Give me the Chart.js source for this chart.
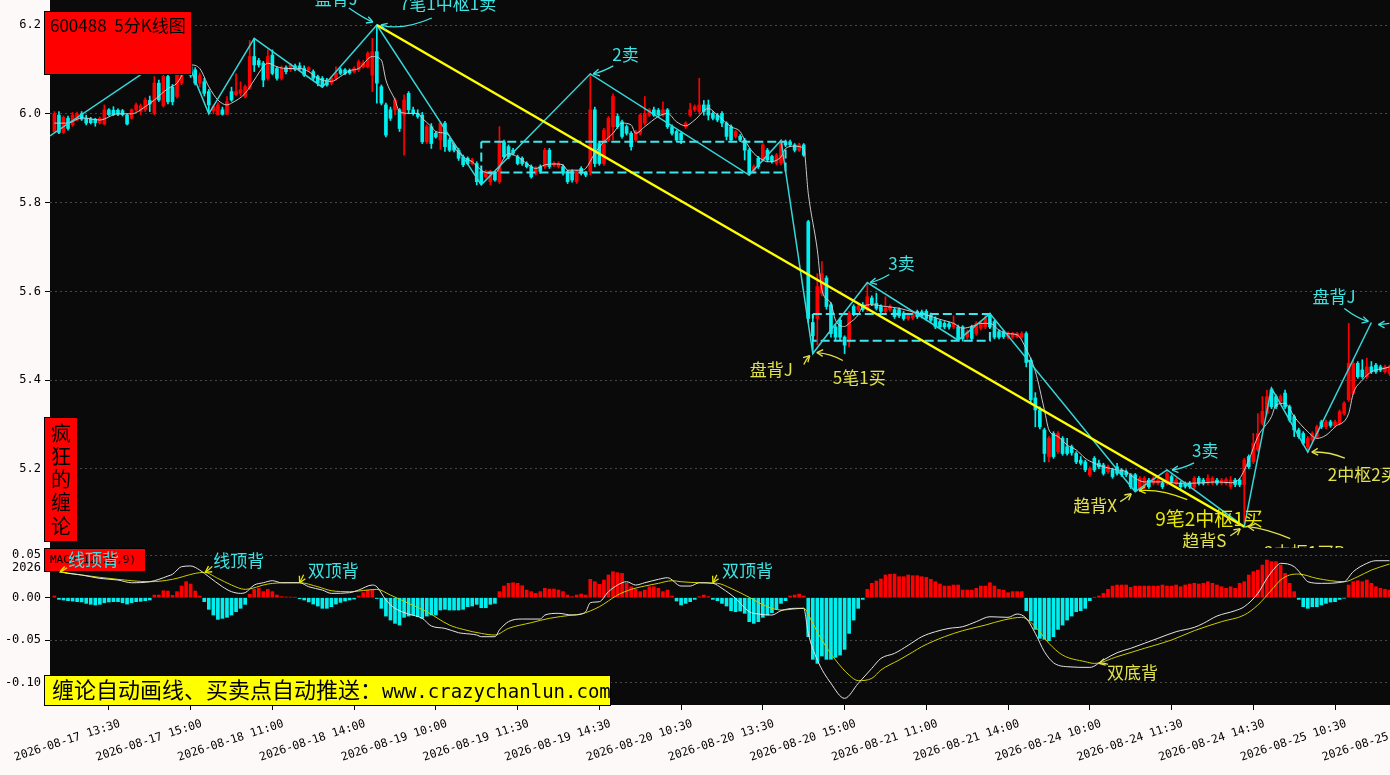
<!DOCTYPE html>
<html>
<head>
<meta charset="utf-8">
<script src="https://cdn.jsdelivr.net/npm/chart.js@4.4.1/dist/chart.umd.min.js"></script>
<style>
  html, body { margin: 0; padding: 0; background: #fcf9f8; overflow: hidden; }
  #wrap { position: relative; width: 1390px; height: 775px; }
  #kBox { position: absolute; left: 0; top: 0; width: 1390px; height: 548px; }
  #mBox { position: absolute; left: 0; top: 548px; width: 1390px; height: 227px; }
</style>
</head>
<body>
<div id="wrap">
  <div id="kBox"><canvas id="kChart"></canvas></div>
  <div id="mBox"><canvas id="macdChart"></canvas></div>
</div>
<script>
// 600488 5分钟K线 (每根 = 5 分钟), 下标 0 = 2026-08-17 13:15
const open = [
  5.960,5.997,5.958,5.990,5.975,5.986,6.000,5.990,5.988,5.988,
  5.979,5.977,6.009,6.008,6.008,6.007,5.997,5.990,6.009,6.005,
  6.009,6.030,6.001,6.069,6.018,6.084,6.060,6.039,6.069,6.095,
  6.106,6.099,6.069,6.072,6.050,6.007,5.998,6.009,5.999,6.050,
  6.043,6.046,6.039,6.058,6.129,6.120,6.114,6.080,6.132,6.102,
  6.080,6.104,6.099,6.108,6.108,6.102,6.099,6.095,6.084,6.080,
  6.076,6.069,6.080,6.099,6.099,6.098,6.095,6.099,6.106,6.106,
  6.087,6.140,6.061,6.020,6.009,6.009,6.009,5.997,6.046,6.009,
  6.001,5.997,5.937,5.971,5.956,5.941,5.979,5.941,5.930,5.918,
  5.903,5.900,5.888,5.888,5.870,5.858,5.847,5.866,5.847,5.937,
  5.926,5.918,5.903,5.900,5.888,5.881,5.866,5.881,5.881,5.918,
  5.885,5.881,5.881,5.870,5.870,5.847,5.877,5.866,5.870,6.009,
  5.933,5.888,5.941,5.971,5.994,5.982,5.971,5.956,5.941,5.956,
  5.979,5.997,6.009,6.008,5.997,6.009,5.971,5.960,5.956,5.971,
  5.997,6.009,6.005,6.020,6.020,6.001,5.997,6.001,5.979,5.971,
  5.949,5.949,5.941,5.918,5.870,5.900,5.896,5.918,5.904,5.889,
  5.889,5.937,5.937,5.930,5.918,5.930,5.757,5.530,5.539,5.596,
  5.630,5.570,5.520,5.535,5.497,5.486,5.566,5.559,5.570,5.559,
  5.585,5.573,5.566,5.555,5.559,5.559,5.559,5.551,5.539,5.540,
  5.555,5.554,5.555,5.547,5.539,5.532,5.528,5.527,5.520,5.520,
  5.520,5.497,5.520,5.505,5.517,5.520,5.547,5.532,5.509,5.508,
  5.497,5.497,5.498,5.497,5.505,5.445,5.360,5.333,5.288,5.228,
  5.280,5.239,5.269,5.250,5.250,5.235,5.220,5.216,5.187,5.224,
  5.213,5.209,5.194,5.198,5.205,5.198,5.194,5.187,5.187,5.153,
  5.160,5.175,5.168,5.168,5.168,5.168,5.183,5.168,5.168,5.167,
  5.168,5.160,5.179,5.175,5.168,5.168,5.175,5.168,5.168,5.160,
  5.175,5.175,5.165,5.228,5.216,5.243,5.303,5.325,5.378,5.363,
  5.352,5.371,5.340,5.318,5.288,5.280,5.250,5.265,5.273,5.306,
  5.295,5.306,5.298,5.303,5.325,5.356,5.371,5.438,5.423,5.408,
  5.430,5.434,5.430,5.419,5.415
];
const high = [
  6.005,6.005,5.995,5.995,6.003,6.004,6.005,5.997,5.992,5.990,
  5.993,6.020,6.012,6.016,6.011,6.010,6.000,6.011,6.024,6.022,
  6.036,6.040,6.084,6.076,6.090,6.095,6.066,6.100,6.150,6.130,
  6.140,6.104,6.092,6.080,6.055,6.020,6.025,6.015,6.039,6.060,
  6.090,6.072,6.065,6.165,6.170,6.125,6.118,6.144,6.144,6.106,
  6.108,6.108,6.114,6.112,6.115,6.108,6.106,6.099,6.087,6.084,
  6.080,6.084,6.106,6.103,6.102,6.101,6.106,6.121,6.120,6.140,
  6.170,6.200,6.065,6.024,6.015,6.036,6.012,6.043,6.050,6.015,
  6.009,6.003,5.975,5.978,5.960,5.982,5.983,5.945,5.933,5.922,
  5.907,5.903,5.900,5.892,5.875,5.873,5.873,5.870,5.971,5.941,
  5.930,5.922,5.907,5.903,5.892,5.885,5.881,5.885,5.922,5.922,
  5.892,5.892,5.885,5.873,5.874,5.873,5.881,5.870,6.090,6.015,
  5.937,5.967,5.994,6.045,6.000,5.986,5.975,5.960,5.963,6.000,
  6.039,6.012,6.015,6.012,6.027,6.012,5.975,5.963,5.960,5.982,
  6.024,6.020,6.080,6.030,6.031,6.005,6.001,6.005,5.982,5.975,
  5.963,5.953,5.945,5.922,5.885,5.904,5.933,5.922,5.907,5.911,
  5.941,5.941,5.941,5.933,5.934,5.933,5.760,5.545,5.640,5.667,
  5.635,5.575,5.525,5.540,5.500,5.555,5.570,5.570,5.575,5.620,
  5.590,5.596,5.570,5.588,5.570,5.562,5.563,5.555,5.551,5.556,
  5.558,5.558,5.559,5.551,5.543,5.535,5.532,5.531,5.545,5.524,
  5.523,5.513,5.524,5.532,5.532,5.549,5.551,5.535,5.513,5.512,
  5.509,5.508,5.508,5.509,5.509,5.450,5.372,5.340,5.292,5.273,
  5.284,5.284,5.273,5.269,5.254,5.239,5.228,5.220,5.205,5.228,
  5.220,5.213,5.209,5.202,5.213,5.201,5.198,5.190,5.190,5.183,
  5.183,5.179,5.183,5.179,5.172,5.198,5.187,5.179,5.172,5.171,
  5.172,5.183,5.183,5.179,5.187,5.183,5.179,5.179,5.180,5.183,
  5.179,5.179,5.224,5.232,5.280,5.325,5.363,5.378,5.382,5.367,
  5.367,5.378,5.344,5.322,5.292,5.284,5.273,5.284,5.299,5.310,
  5.310,5.310,5.310,5.333,5.352,5.528,5.446,5.442,5.446,5.450,
  5.442,5.438,5.434,5.434,5.434
];
const low = [
  5.957,5.955,5.955,5.963,5.972,5.984,5.985,5.975,5.977,5.972,
  5.977,5.975,5.995,5.996,5.996,5.995,5.975,5.988,6.005,5.998,
  6.005,6.005,5.998,6.028,6.015,6.022,6.020,6.035,6.065,6.090,
  6.082,6.065,6.060,6.040,6.000,6.000,5.998,5.997,5.998,6.028,
  6.040,6.040,6.036,6.055,6.095,6.105,6.061,6.076,6.088,6.076,
  6.076,6.090,6.095,6.097,6.097,6.084,6.095,6.076,6.063,6.060,
  6.062,6.065,6.076,6.088,6.088,6.089,6.092,6.095,6.103,6.103,
  6.050,6.024,6.020,5.948,5.985,5.998,5.960,5.907,6.000,5.997,
  5.990,5.933,5.933,5.922,5.945,5.920,5.915,5.915,5.914,5.895,
  5.881,5.885,5.885,5.840,5.840,5.855,5.840,5.848,5.843,5.900,
  5.899,5.907,5.885,5.884,5.878,5.855,5.862,5.866,5.877,5.877,
  5.881,5.878,5.862,5.843,5.846,5.843,5.862,5.858,5.862,5.881,
  5.884,5.884,5.937,5.941,5.967,5.945,5.952,5.918,5.937,5.952,
  5.975,5.994,5.994,5.994,5.994,5.967,5.952,5.937,5.933,5.967,
  5.994,6.005,6.000,5.997,5.986,5.986,5.982,5.971,5.941,5.937,
  5.945,5.937,5.896,5.862,5.866,5.877,5.892,5.892,5.889,5.885,
  5.885,5.926,5.926,5.914,5.915,5.904,5.530,5.460,5.480,5.590,
  5.560,5.497,5.490,5.490,5.460,5.475,5.545,5.555,5.555,5.555,
  5.568,5.558,5.551,5.551,5.555,5.539,5.541,5.535,5.535,5.536,
  5.539,5.540,5.535,5.531,5.516,5.516,5.516,5.515,5.516,5.490,
  5.488,5.493,5.490,5.501,5.513,5.516,5.516,5.493,5.493,5.494,
  5.493,5.494,5.495,5.494,5.430,5.350,5.295,5.290,5.216,5.216,
  5.224,5.235,5.231,5.231,5.231,5.212,5.209,5.194,5.183,5.194,
  5.201,5.186,5.190,5.179,5.186,5.183,5.183,5.156,5.149,5.149,
  5.156,5.156,5.164,5.164,5.156,5.164,5.168,5.164,5.156,5.157,
  5.156,5.156,5.164,5.164,5.164,5.165,5.164,5.164,5.164,5.156,
  5.160,5.160,5.070,5.201,5.212,5.239,5.299,5.321,5.336,5.336,
  5.348,5.336,5.306,5.273,5.269,5.254,5.238,5.261,5.269,5.291,
  5.291,5.294,5.294,5.299,5.321,5.352,5.367,5.404,5.404,5.404,
  5.415,5.415,5.419,5.415,5.411
];
const close = [
  6.000,5.958,5.992,5.967,5.997,6.000,5.988,5.979,5.980,5.980,
  5.990,6.009,5.998,5.998,5.999,5.998,5.977,6.009,6.020,6.018,
  6.031,6.022,6.069,6.031,6.084,6.027,6.027,6.087,6.099,6.110,
  6.087,6.069,6.087,6.046,6.020,6.016,6.020,5.999,6.027,6.031,
  6.050,6.054,6.061,6.129,6.110,6.110,6.076,6.129,6.091,6.080,
  6.102,6.095,6.110,6.100,6.101,6.087,6.104,6.080,6.069,6.063,
  6.065,6.080,6.091,6.091,6.091,6.092,6.102,6.117,6.114,6.136,
  6.140,6.069,6.024,5.952,5.990,6.031,5.967,6.031,6.009,6.001,
  5.994,5.937,5.971,5.933,5.948,5.979,5.926,5.918,5.918,5.900,
  5.885,5.888,5.896,5.847,5.843,5.870,5.870,5.851,5.937,5.903,
  5.903,5.911,5.888,5.888,5.881,5.858,5.877,5.870,5.918,5.881,
  5.888,5.888,5.866,5.847,5.851,5.870,5.866,5.862,6.009,5.888,
  5.888,5.963,5.990,6.039,5.971,5.949,5.956,5.926,5.960,5.997,
  6.001,6.009,5.997,5.998,6.009,5.971,5.956,5.941,5.941,5.979,
  6.009,6.016,6.020,6.005,5.997,5.990,5.986,5.979,5.949,5.941,
  5.960,5.941,5.918,5.870,5.881,5.881,5.930,5.896,5.892,5.907,
  5.937,5.930,5.930,5.918,5.930,5.907,5.539,5.500,5.611,5.640,
  5.566,5.505,5.497,5.497,5.479,5.551,5.551,5.566,5.559,5.588,
  5.572,5.562,5.555,5.562,5.566,5.543,5.545,5.539,5.547,5.551,
  5.543,5.544,5.539,5.535,5.520,5.520,5.520,5.520,5.528,5.494,
  5.494,5.509,5.494,5.528,5.528,5.539,5.520,5.497,5.497,5.498,
  5.505,5.505,5.505,5.505,5.440,5.356,5.333,5.295,5.235,5.269,
  5.228,5.280,5.235,5.235,5.237,5.216,5.213,5.198,5.201,5.198,
  5.205,5.190,5.205,5.183,5.190,5.187,5.187,5.160,5.153,5.179,
  5.179,5.160,5.179,5.175,5.160,5.190,5.172,5.175,5.160,5.161,
  5.160,5.179,5.168,5.168,5.179,5.179,5.168,5.175,5.176,5.175,
  5.165,5.165,5.220,5.205,5.258,5.280,5.330,5.363,5.340,5.340,
  5.363,5.340,5.310,5.288,5.273,5.258,5.269,5.280,5.295,5.295,
  5.306,5.298,5.306,5.329,5.348,5.438,5.438,5.408,5.408,5.430,
  5.419,5.419,5.423,5.430,5.430
];

// 均线 (白线), [下标, 价格]
const ma5 = [
  [0,5.979],[3,5.979],[6,5.991],[10,5.986],[14,6.000],[17,6.000],[20,6.016],[22,6.031],[25,6.057],[27,6.069],
  [29,6.102],[30,6.110],[32,6.102],[34,6.061],[36,6.031],[38,6.020],[39,6.024],[42,6.046],[44,6.076],[46,6.106],
  [47,6.114],[49,6.106],[51,6.102],[54,6.102],[56,6.095],[58,6.080],[61,6.073],[63,6.084],[65,6.097],[67,6.102],
  [70,6.129],[72,6.121],[73,6.076],[75,6.031],[76,6.005],[78,6.001],[80,6.001],[81,5.990],[83,5.971],[84,5.960],
  [86,5.956],[87,5.949],[88,5.926],[90,5.903],[92,5.892],[94,5.873],[96,5.866],[97,5.866],[99,5.900],[100,5.911],
  [102,5.903],[104,5.888],[106,5.877],[108,5.885],[110,5.887],[112,5.885],[113,5.873],[116,5.873],[117,5.877],[119,5.911],
  [121,5.937],[123,5.956],[125,5.979],[127,5.975],[128,5.956],[130,5.971],[133,5.994],[135,6.001],[137,5.982],[139,5.973],
  [141,5.986],[144,6.012],[146,5.997],[149,5.971],[151,5.960],[152,5.941],[154,5.911],[156,5.896],[157,5.892],[160,5.903],
  [161,5.922],[163,5.927],[165,5.922],[166,5.821],[168,5.693],[169,5.603],[171,5.573],[172,5.535],[174,5.521],[175,5.528],
  [177,5.547],[178,5.566],[180,5.570],[183,5.566],[186,5.562],[189,5.554],[192,5.547],[195,5.537],[198,5.528],[200,5.517],
  [202,5.521],[204,5.528],[206,5.528],[208,5.513],[210,5.505],[212,5.502],[214,5.470],[216,5.420],[218,5.333],[219,5.288],
  [221,5.273],[223,5.254],[225,5.243],[227,5.224],[229,5.213],[231,5.205],[234,5.198],[236,5.194],[238,5.179],[240,5.171],
  [243,5.171],[245,5.171],[247,5.168],[250,5.168],[253,5.169],[256,5.171],[259,5.169],[261,5.179],[263,5.220],[265,5.273],
  [268,5.318],[269,5.344],[271,5.348],[273,5.318],[276,5.284],[278,5.269],[280,5.276],[282,5.295],[285,5.325],[286,5.370],
  [288,5.400],[290,5.419],[293,5.427],[294,5.430]
];

// 笔 (青色折线) 端点
const biIdx   = [-1, 28, 34, 44, 59, 71, 94, 118, 153, 160, 167, 179, 199, 206, 238, 245, 262, 268, 276, 290];
const biPrice = [5.95, 6.15, 6.00, 6.17, 6.06, 6.20, 5.84, 6.09, 5.862, 5.94, 5.46, 5.62, 5.49, 5.55, 5.149, 5.198, 5.07, 5.382, 5.238, 5.53];

// 线段 (黄色直线)
const trendIdx   = [71, 262];
const trendPrice = [6.20, 5.07];

// 中枢 (虚线框)
const zsFrom = [94, 167];
const zsTo   = [161, 206];
const zsHigh = [5.937, 5.549];
const zsLow  = [5.868, 5.489];

// MACD 柱
const macdHist = [
  .002,-.002,-.0027,-.0035,-.004,-.0047,-.005,-.0067,-.0078,-.0086,
  -.0078,-.0059,-.005,-.0047,-.0047,-.0059,-.0075,-.0059,-.0047,-.0043,
  -.0035,-.0027,.0031,.0031,.0082,.0078,.0027,.0071,.0137,.0188,
  .0161,.0078,.002,-.0047,-.0137,-.0204,-.0255,-.0243,-.0231,-.0204,
  -.0165,-.0125,-.0078,.0039,.0098,.011,.0071,.0098,.0071,.0031,
  .0012,.0008,.0008,.0004,-.0012,-.0027,-.005,-.0075,-.0098,-.0125,
  -.0125,-.0106,-.0075,-.0055,-.0039,-.0027,-.0016,.002,.0059,.009,
  .0098,-.001,-.0125,-.0216,-.0263,-.0302,-.0322,-.0231,-.0216,-.0204,
  -.0224,-.0243,-.0216,-.0204,-.0204,-.0145,-.0137,-.0145,-.0145,-.0145,
  -.0137,-.0106,-.0098,-.0078,-.0118,-.0118,-.0078,-.0067,.0071,.0137,
  .0169,.0176,.0169,.0141,.009,.0071,.0051,.0071,.011,.0102,
  .0102,.009,.0071,.0031,.0012,.0031,.0043,.0031,.0216,.0188,
  .0157,.0208,.0267,.0306,.0294,.0286,.0169,.0129,.0098,.0071,
  .009,.0129,.0129,.011,.0071,.009,.002,-.0039,-.0086,-.0067,
  -.0047,-.002,.0012,.0031,.0012,-.002,-.0035,-.0067,-.0098,-.0153,
  -.0165,-.0157,-.0184,-.0282,-.0302,-.0282,-.0231,-.0204,-.0176,-.0137,
  -.0067,-.0035,.002,.0031,.0043,.002,-.0459,-.0725,-.0773,-.0686,
  -.0725,-.0725,-.0702,-.0675,-.0608,-.042,-.0263,-.0125,-.002,.0098,
  .0169,.0196,.022,.0267,.0275,.0278,.0247,.0247,.0267,.0259,
  .0259,.0247,.0239,.0216,.0188,.0161,.0137,.0137,.0149,.0149,
  .009,.009,.009,.011,.0137,.0137,.0176,.0137,.0098,.009,
  .0059,.0071,.0071,.0071,-.0153,-.0271,-.0373,-.0478,-.049,-.0506,
  -.0459,-.0373,-.0322,-.0263,-.0216,-.0165,-.0153,-.0125,-.0035,.0004,
  .002,.0051,.0098,.0137,.0149,.0149,.0149,.0122,.0137,.0137,
  .0137,.0137,.0137,.0137,.0149,.0137,.0137,.0149,.0129,.0149,
  .0161,.0169,.0161,.0169,.0188,.0169,.0149,.0129,.011,.0129,
  .011,.0169,.0188,.0267,.0306,.0325,.0384,.0443,.0424,.0424,
  .0384,.0286,.0169,.0071,-.002,-.0106,-.0125,-.0106,-.0106,-.0086,
  -.0067,-.0051,-.0047,-.002,-.0005,.0149,.0188,.02,.0188,.0208,
  .0169,.0129,.011,.0098,.009
];

// DIF (白线) / DEA (黄线), [下标, 值]
const difLine = [
  [1,.0306],[3,.0286],[6,.0267],[10,.0227],[14,.0208],[17,.0176],[21,.0188],[23,.0216],[25,.0255],[26,.0275],
  [28,.0365],[30,.0373],[32,.0325],[34,.0247],[37,.0129],[39,.0071],[41,.0051],[42,.0059],[44,.0149],[46,.0176],
  [48,.0200],[50,.0176],[54,.0176],[56,.0129],[59,.0090],[61,.0051],[65,.0059],[67,.0090],[70,.0149],[71,.0129],
  [73,-.0027],[75,-.0125],[78,-.0192],[81,-.0243],[83,-.0333],[86,-.0361],[89,-.0412],[90,-.0420],[93,-.0439],[94,-.0459],
  [97,-.0459],[98,-.0380],[100,-.0282],[103,-.0251],[107,-.0251],[108,-.0204],[111,-.0184],[114,-.0204],[116,-.0192],[117,-.0165],
  [118,-.0059],[120,-.0047],[122,.0071],[125,.0176],[126,.0188],[128,.0149],[130,.0176],[133,.0216],[135,.0235],[138,.0137],
  [140,.0137],[142,.0176],[145,.0169],[147,.0110],[150,-.0008],[153,-.0165],[155,-.0192],[158,-.0204],[160,-.0153],[163,-.0125],
  [165,-.0125],[166,-.0420],[168,-.0733],[171,-.1008],[174,-.1184],[177,-.1008],[180,-.0831],[182,-.0714],[185,-.0655],[188,-.0560],
  [191,-.0459],[194,-.0400],[197,-.0361],[200,-.0341],[203,-.0282],[206,-.0224],[210,-.0231],[212,-.0192],[214,-.0243],[216,-.0420],
  [218,-.0635],[220,-.0765],[223,-.0812],[228,-.0820],[231,-.0733],[234,-.0647],[237,-.0596],[240,-.0537],[243,-.0478],[247,-.0400],
  [251,-.0349],[253,-.0302],[256,-.0216],[260,-.0153],[262,-.0106],[265,.0051],[267,.0227],[269,.0365],[270,.0404],[273,.0365],
  [275,.0247],[276,.0188],[279,.0169],[284,.0188],[286,.0306],[289,.0404],[291,.0435],[294,.0435]
];
const deaLine = [
  [1,.0306],[6,.0267],[14,.0216],[21,.0188],[26,.0216],[31,.0286],[33,.0298],[36,.0227],[39,.0149],[42,.0098],
  [47,.0161],[51,.0176],[54,.0176],[58,.0129],[61,.0082],[65,.0071],[69,.0090],[71,.0098],[74,.0031],[78,-.0067],
  [82,-.0165],[87,-.0322],[90,-.0373],[94,-.0420],[97,-.0439],[100,-.0361],[105,-.0294],[109,-.0243],[114,-.0204],[116,-.0192],
  [120,-.0106],[124,.0031],[127,.0098],[130,.0137],[133,.0169],[136,.0200],[138,.0188],[142,.0176],[146,.0169],[149,.0110],
  [153,.0004],[157,-.0106],[160,-.0145],[165,-.0125],[167,-.0302],[169,-.0498],[172,-.0733],[175,-.0910],[177,-.0976],[180,-.0949],
  [182,-.0851],[186,-.0733],[189,-.0640],[191,-.0576],[196,-.0459],[200,-.0388],[205,-.0322],[209,-.0263],[213,-.0231],[216,-.0341],
  [219,-.0537],[222,-.0675],[227,-.0753],[229,-.0773],[234,-.0694],[240,-.0596],[246,-.0498],[251,-.0388],[257,-.0282],[262,-.0204],
  [265,-.0086],[268,.0090],[270,.0208],[272,.0267],[274,.0278],[278,.0227],[284,.0188],[287,.0247],[290,.0325],[294,.0396]
];

// 坐标轴刻度
const priceTicks = [5.2, 5.4, 5.6, 5.8, 6.0, 6.2];
const macdTickVals = [-0.10, -0.05, 0, 0.0346, 0.05];
const macdTickText = ['-0.10', '-0.05', '0.00', '2026', '0.05'];
const tickIdx = [3, 21, 39, 57, 75, 93, 111, 129, 147, 165, 183, 201, 219, 237, 255, 273, 291];
const tickText = [
  '2026-08-17 13:30', '2026-08-17 15:00', '2026-08-18 11:00', '2026-08-18 14:00', '2026-08-19 10:00',
  '2026-08-19 11:30', '2026-08-19 14:30', '2026-08-20 10:30', '2026-08-20 13:30', '2026-08-20 15:00',
  '2026-08-21 11:00', '2026-08-21 14:00', '2026-08-24 10:00', '2026-08-24 11:30', '2026-08-24 14:30',
  '2026-08-25 10:30', '2026-08-25 13:30'
];

const UP = '#ff0000', DOWN = '#00f0f0';
const CYAN_TXT = '#3ee4e4', YEL_TXT = '#e2e24a', YEL_ARROW = '#e8e800';
const X_MIN = -0.97, X_MAX = 294.1;
const CJK = '"Noto Sans CJK SC", sans-serif';
const MONO = '"DejaVu Sans Mono", monospace';

// 标注: 锚点是 [下标, 数值], 文字和箭头按像素偏移
const kNotes = [
  { text: '盘背J', at: [71, 6.20], dx: -62, dy: -20, color: CYAN_TXT, arrows: [[-28, -17, -12, -6, -4, -3]] },
  { text: '7笔1中枢1卖', at: [71, 6.20], dx: 23, dy: -15, color: CYAN_TXT, arrows: [[55, -7, 25, 6, 4, 0]] },
  { text: '2卖', at: [118, 6.09], dx: 22, dy: -13, color: CYAN_TXT, arrows: [[23, -8, 12, -2, 3, 0]] },
  { text: '3卖', at: [179, 5.62], dx: 21, dy: -13, color: CYAN_TXT, arrows: [[22, -8, 12, -2, 3, 0]] },
  { text: '盘背J', at: [167, 5.46], dx: -63, dy: 22, color: YEL_TXT, arrows: [[-9, 11, -7, 6, -3, 2]] },
  { text: '5笔1买', at: [167, 5.46], dx: 20, dy: 30, color: YEL_TXT, arrows: [[30, 7, 18, 0, 4, -1]] },
  { text: '3卖', at: [245, 5.198], dx: 25, dy: -13, color: CYAN_TXT, arrows: [[27, -7, 15, -1, 5, 0]] },
  { text: '趋背X', at: [238, 5.149], dx: -62, dy: 20, color: YEL_TXT, arrows: [[-15, 10, -10, 7, -4, 2]] },
  { text: '9笔2中枢1买', at: [238, 5.149], dx: 20, dy: 34, color: YEL_ARROW, size: 19, arrows: [[52, 8, 25, -3, 4, -1]] },
  { text: '趋背S', at: [262, 5.07], dx: -62, dy: 20, color: YEL_TXT, arrows: [[-14, 9, -9, 6, -4, 2]] },
  { text: '2中枢1买B', at: [262, 5.07], dx: 20, dy: 32, color: YEL_TXT, arrows: [[46, 12, 22, 2, 4, 0]] },
  { text: '2中枢2买', at: [276, 5.238], dx: 20, dy: 29, color: YEL_TXT, arrows: [[37, 6, 20, -1, 4, 0]] },
  { text: '盘背J', at: [290, 5.53], dx: -59, dy: -19, color: CYAN_TXT, arrows: [[-27, -14, -14, -4, -3, -1], [18, 1, 12, 2, 7, 2]] }
];
const mNotes = [
  { text: '线顶背', at: [1, 0.0306], dx: 9, dy: -6, color: CYAN_TXT, arrowColor: YEL_ARROW, arrows: [[8, -4, 4, -1, 1, 0]] },
  { text: '线顶背', at: [33, 0.0298], dx: 9, dy: -5, color: CYAN_TXT, arrowColor: YEL_ARROW, arrows: [[8, -6, 4, -2, 1, 0]] },
  { text: '双顶背', at: [54, 0.0176], dx: 8, dy: -6, color: CYAN_TXT, arrowColor: YEL_ARROW, arrows: [[4, -8, 2, -4, 0, 0]] },
  { text: '双顶背', at: [145, 0.0176], dx: 9, dy: -6, color: CYAN_TXT, arrowColor: YEL_ARROW, arrows: [[4, -8, 2, -4, 0, 0]] },
  { text: '双底背', at: [230, -0.0773], dx: 8, dy: 16, color: YEL_TXT, arrows: [[9, 1, 4, -1, 0, 0]] }
];

function drawArrow(g, ax, ay, a, color) {
  const [sx, sy, cx, cy, ex, ey] = a;
  g.strokeStyle = color;
  g.lineWidth = 1.3;
  g.beginPath();
  g.moveTo(ax + sx, ay + sy);
  g.quadraticCurveTo(ax + cx, ay + cy, ax + ex, ay + ey);
  g.stroke();
  const ang = Math.atan2(ey - cy, ex - cx);
  g.beginPath();
  [-1, 1].forEach(s => {
    g.moveTo(ax + ex, ay + ey);
    g.lineTo(ax + ex - 7 * Math.cos(ang + s * 0.5), ay + ey - 7 * Math.sin(ang + s * 0.5));
  });
  g.stroke();
}

function drawNotes(chart, notes, yId) {
  const g = chart.ctx;
  notes.forEach(n => {
    const ax = chart.scales.x.getPixelForValue(n.at[0]);
    const ay = chart.scales[yId].getPixelForValue(n.at[1]);
    g.save();
    g.font = (n.size || 17) + 'px ' + CJK;
    g.fillStyle = n.color;
    g.textAlign = 'left';
    g.textBaseline = 'alphabetic';
    g.fillText(n.text, ax + n.dx, ay + n.dy);
    n.arrows.forEach(a => drawArrow(g, ax, ay, a, n.arrowColor || n.color));
    g.restore();
  });
}

const blackBg = {
  id: 'blackBg',
  beforeDraw(chart) {
    const a = chart.chartArea, g = chart.ctx;
    g.save();
    g.fillStyle = '#0a0a0a';
    g.fillRect(a.left, a.top, a.right - a.left, a.bottom - a.top);
    g.restore();
  }
};

function boxRect(g, x, y, w, h, fill) {
  g.fillStyle = fill;
  g.fillRect(x, y, w, h);
  g.strokeStyle = '#000';
  g.lineWidth = 1;
  g.strokeRect(x + 0.5, y + 0.5, w - 1, h - 1);
}

const kDecor = {
  id: 'kDecor',
  afterDraw(chart) {
    const g = chart.ctx;
    g.save();
    // 标题框
    boxRect(g, 44, 11, 148, 64, '#ff0000');
    g.fillStyle = '#000';
    g.font = '17px ' + CJK;
    g.textBaseline = 'alphabetic';
    g.fillText('600488  5分K线图', 50, 32);
    // 左下竖排框
    boxRect(g, 44, 417, 34, 125, '#ff0000');
    g.fillStyle = '#000';
    g.font = '20px ' + CJK;
    g.textAlign = 'center';
    g.textBaseline = 'middle';
    ['疯', '狂', '的', '缠', '论'].forEach((ch, k) => g.fillText(ch, 61, 433 + k * 23.3));
    g.restore();
    drawNotes(chart, kNotes, 'y');
  }
};

const mDecor = {
  id: 'mDecor',
  afterDraw(chart) {
    const g = chart.ctx;
    g.save();
    // 指标名称框
    boxRect(g, 44, 0, 102, 24, '#ff0000');
    g.fillStyle = '#000';
    g.font = '11px ' + MONO;
    g.textBaseline = 'alphabetic';
    g.fillText('MACD(12,26,9)', 50, 15);
    // 底部黄色推广框
    boxRect(g, 44, 127, 567, 31, '#ffff00');
    g.fillStyle = '#000';
    g.font = '22px ' + CJK;
    const cn = '缠论自动画线、买卖点自动推送：';
    g.fillText(cn, 52, 150);
    const w = g.measureText(cn).width;
    g.font = '19px ' + MONO;
    g.fillText('www.crazychanlun.com', 52 + w, 150);
    g.restore();
    drawNotes(chart, mNotes, 'y');
  }
};

function yAxisFit(scale) {
  scale.width = 50;
  scale.paddingTop = 0;
  scale.paddingBottom = 0;
}

// ---- K线主图 ----
const wickData = open.map((_, i) => ({ x: i, y: [low[i], high[i]] }));
const bodyData = open.map((_, i) => ({ x: i, y: [open[i], close[i]] }));
const candleColor = ctx => (close[ctx.dataIndex] >= open[ctx.dataIndex] ? UP : DOWN);

const zsSets = zsFrom.map((f, k) => ({
  type: 'line',
  data: [
    { x: f, y: zsHigh[k] }, { x: zsTo[k], y: zsHigh[k] },
    { x: zsTo[k], y: zsLow[k] }, { x: f, y: zsLow[k] }, { x: f, y: zsHigh[k] }
  ],
  borderColor: '#3ee6ee',
  borderWidth: 2,
  borderDash: [9, 4],
  pointRadius: 0,
  tension: 0,
  order: 2
}));

new Chart(document.getElementById('kChart'), {
  type: 'bar',
  data: {
    datasets: [
      {
        type: 'line',
        data: trendIdx.map((x, k) => ({ x, y: trendPrice[k] })),
        borderColor: '#ffff00', borderWidth: 2.5, pointRadius: 0, order: 0
      },
      {
        type: 'line',
        data: biIdx.map((x, k) => ({ x, y: biPrice[k] })),
        borderColor: '#36d6d8', borderWidth: 1.5, pointRadius: 0, tension: 0, order: 1
      },
      ...zsSets,
      {
        type: 'line',
        data: ma5.map(p => ({ x: p[0], y: p[1] })),
        borderColor: '#c8c8c8', borderWidth: 1, pointRadius: 0,
        cubicInterpolationMode: 'monotone', order: 3
      },
      {
        data: bodyData, backgroundColor: candleColor, barThickness: 3,
        minBarLength: 1, grouped: false, borderWidth: 0, order: 4
      },
      {
        data: wickData, backgroundColor: candleColor, barThickness: 1,
        grouped: false, borderWidth: 0, order: 5
      }
    ]
  },
  options: {
    responsive: true,
    maintainAspectRatio: false,
    animation: false,
    events: [],
    layout: { padding: 0 },
    plugins: { legend: { display: false }, tooltip: { enabled: false } },
    scales: {
      x: { type: 'linear', min: X_MIN, max: X_MAX, offset: false, display: false },
      y: {
        min: 5.02207, max: 6.25631,
        afterBuildTicks: s => { s.ticks = priceTicks.map(v => ({ value: v })); },
        afterFit: yAxisFit,
        grid: { color: '#484848', tickColor: '#000', tickLength: 5, tickBorderDash: [] },
        border: { display: false, dash: [2, 3] },
        ticks: {
          color: '#000', padding: 4,
          font: { family: MONO, size: 12 },
          callback: v => v.toFixed(1)
        }
      }
    }
  },
  plugins: [blackBg, kDecor]
});

// ---- MACD 副图 ----
new Chart(document.getElementById('macdChart'), {
  type: 'bar',
  data: {
    datasets: [
      {
        type: 'line',
        data: difLine.map(p => ({ x: p[0], y: p[1] })),
        borderColor: '#e4e4e4', borderWidth: 1, pointRadius: 0,
        cubicInterpolationMode: 'monotone', order: 0
      },
      {
        type: 'line',
        data: deaLine.map(p => ({ x: p[0], y: p[1] })),
        borderColor: '#cccc00', borderWidth: 1, pointRadius: 0,
        cubicInterpolationMode: 'monotone', order: 1
      },
      {
        data: macdHist.map((v, i) => ({ x: i, y: v })),
        backgroundColor: ctx => (macdHist[ctx.dataIndex] >= 0 ? UP : DOWN),
        barThickness: 3, grouped: false, borderWidth: 0, order: 2
      }
    ]
  },
  options: {
    responsive: true,
    maintainAspectRatio: false,
    animation: false,
    events: [],
    layout: { padding: 0 },
    plugins: { legend: { display: false }, tooltip: { enabled: false } },
    scales: {
      x: {
        type: 'linear', min: X_MIN, max: X_MAX, offset: false,
        afterBuildTicks: s => { s.ticks = tickIdx.map(v => ({ value: v })); },
        afterFit: s => { s.height = 70; s.paddingLeft = 0; s.paddingRight = 0; },
        grid: { drawOnChartArea: false, drawTicks: true, tickLength: 5, tickColor: '#000', color: '#000' },
        border: { display: false },
        ticks: {
          autoSkip: false, minRotation: 18, maxRotation: 18, labelOffset: 52, padding: 7,
          color: '#000', font: { family: MONO, size: 11.5 },
          callback: v => tickText[tickIdx.indexOf(v)]
        }
      },
      y: {
        min: -0.12624, max: 0.05847,
        afterBuildTicks: s => { s.ticks = macdTickVals.map(v => ({ value: v })); },
        afterFit: yAxisFit,
        grid: {
          color: ctx => (ctx.tick && (ctx.tick.value === 0 || ctx.tick.value === 0.0346) ? 'rgba(0,0,0,0)' : '#484848'),
          tickColor: '#000', tickLength: 5, tickBorderDash: []
        },
        border: { display: false, dash: [2, 3] },
        ticks: {
          color: '#000', padding: 4,
          font: { family: MONO, size: 12 },
          callback: v => macdTickText[macdTickVals.indexOf(v)]
        }
      }
    }
  },
  plugins: [blackBg, mDecor]
});
</script>
</body>
</html>
